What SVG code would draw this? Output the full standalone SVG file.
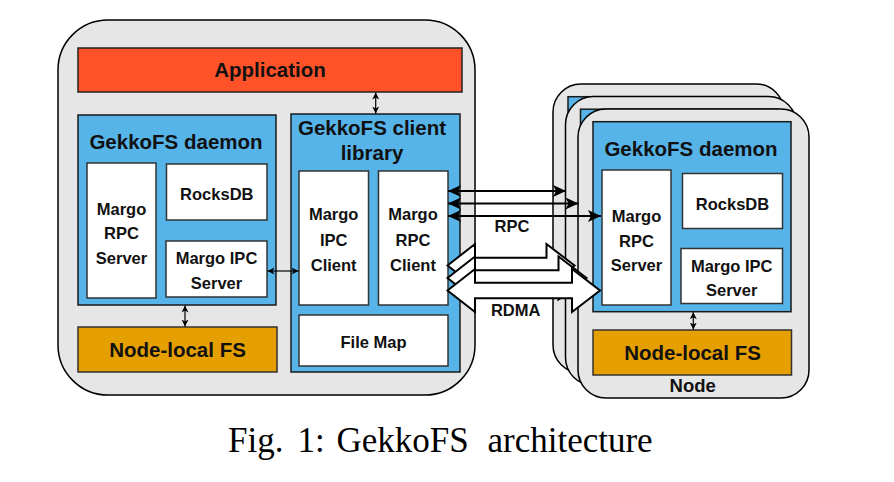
<svg xmlns="http://www.w3.org/2000/svg" width="894" height="482" viewBox="0 0 894 482">
<style>
.frame{fill:#e6e6e6;stroke:#000;stroke-width:1.5}
.blue{fill:#56b4e9;stroke:#1a1a1a;stroke-width:1.5}
.white{fill:#fff;stroke:#333;stroke-width:1.5}
.app{fill:#ff5229;stroke:#222;stroke-width:1.5}
.fs{fill:#e69f00;stroke:#333;stroke-width:1.5}
.t20{font-family:"Liberation Sans",Arial,sans-serif;font-weight:bold;font-size:20.5px;fill:#111;text-anchor:middle}
.t18{font-family:"Liberation Sans",Arial,sans-serif;font-weight:bold;font-size:18.5px;fill:#111;text-anchor:middle}
.t16{font-family:"Liberation Sans",Arial,sans-serif;font-weight:bold;font-size:16.5px;fill:#111;text-anchor:middle}
.rdma{fill:#fff;stroke:#000;stroke-width:2;stroke-linejoin:miter}
.rpc{stroke:#000;stroke-width:2;fill:none;marker-start:url(#big);marker-end:url(#big)}
.sm{stroke:#000;stroke-width:1.2;fill:none;marker-start:url(#small);marker-end:url(#small)}
.cap{font-family:"Liberation Serif","Times New Roman",serif;font-size:35px;fill:#000}
</style>
<defs>
<marker id="big" markerUnits="userSpaceOnUse" markerWidth="14" markerHeight="12" refX="13" refY="6" orient="auto-start-reverse" viewBox="0 0 14 12">
<path d="M0,0 L13,6 L0,12 L3,6 z" fill="#000"/>
</marker>
<marker id="small" markerUnits="userSpaceOnUse" markerWidth="8" markerHeight="8" refX="7" refY="4" orient="auto-start-reverse" viewBox="0 0 8 8">
<path d="M0,0.5 L7,4 L0,7.5 L2,4 z" fill="#000"/>
</marker>
</defs>
<rect width="894" height="482" fill="#fff"/>

<g id="node-left">
<rect class="frame" x="58" y="20" width="417" height="375" rx="50"/>
<g id="application">
<rect class="app" x="78" y="48" width="384" height="44"/>
<text class="t20" x="270" y="77">Application</text>
</g>
<g id="daemon-left">
<rect class="blue" x="78" y="115" width="198" height="190"/>
<text class="t20" x="176" y="149">GekkoFS daemon</text>
<g id="rpc-server-left">
<rect class="white" x="87" y="163" width="69" height="135"/>
<text class="t16" x="121.5" y="215">Margo</text>
<text class="t16" x="121.5" y="239">RPC</text>
<text class="t16" x="121.5" y="264">Server</text>
</g>
<g id="rocksdb-left">
<rect class="white" x="166.5" y="164" width="100.5" height="56"/>
<text class="t16" x="216.8" y="200">RocksDB</text>
</g>
<g id="ipc-server-left">
<rect class="white" x="166" y="241" width="101" height="56"/>
<text class="t16" x="216.5" y="264">Margo IPC</text>
<text class="t16" x="216.5" y="289">Server</text>
</g>
</g>
<g id="fs-left">
<rect class="fs" x="78" y="327" width="199" height="45"/>
<text class="t20" x="177.5" y="356.5">Node-local FS</text>
</g>
<g id="client-lib">
<rect class="blue" x="291" y="114" width="169" height="258"/>
<text class="t20" x="372" y="135">GekkoFS client</text>
<text class="t20" x="372" y="160">library</text>
<g id="ipc-client">
<rect class="white" x="299" y="171" width="69.5" height="134"/>
<text class="t16" x="333.7" y="220">Margo</text>
<text class="t16" x="333.7" y="246">IPC</text>
<text class="t16" x="333.7" y="270.5">Client</text>
</g>
<g id="rpc-client">
<rect class="white" x="378.5" y="171" width="69.5" height="134"/>
<text class="t16" x="413" y="220">Margo</text>
<text class="t16" x="413" y="246">RPC</text>
<text class="t16" x="413" y="270.5">Client</text>
</g>
<g id="filemap">
<rect class="white" x="299" y="315" width="149" height="51"/>
<text class="t16" x="373.5" y="347.5">File Map</text>
</g>
</g>
</g>

<g id="node-back2">
<rect class="frame" x="553" y="84" width="231" height="289" rx="28"/>
<rect class="blue" x="568" y="96.7" width="198" height="190"/>
</g>
<g id="node-back1">
<rect class="frame" x="565.5" y="96.5" width="231" height="289" rx="28"/>
<rect class="blue" x="580.5" y="109.2" width="198" height="190"/>
</g>
<g id="node-right">
<rect class="frame" x="578" y="109" width="231" height="289" rx="28"/>
<g id="daemon-right">
<rect class="blue" x="593" y="121.7" width="198" height="190"/>
<text class="t20" x="691" y="155.5">GekkoFS daemon</text>
<g id="rpc-server-right">
<rect class="white" x="602" y="170" width="69" height="135"/>
<text class="t16" x="636.5" y="221.5">Margo</text>
<text class="t16" x="636.5" y="246.5">RPC</text>
<text class="t16" x="636.5" y="271">Server</text>
</g>
<g id="rocksdb-right">
<rect class="white" x="682.5" y="173.5" width="100" height="55"/>
<text class="t16" x="732.5" y="210">RocksDB</text>
</g>
<g id="ipc-server-right">
<rect class="white" x="681" y="248.5" width="101.5" height="55"/>
<text class="t16" x="731.7" y="271.5">Margo IPC</text>
<text class="t16" x="731.7" y="296">Server</text>
</g>
</g>
<g id="fs-right">
<rect class="fs" x="593" y="330" width="198.5" height="45"/>
<text class="t20" x="692.5" y="360">Node-local FS</text>
</g>
<text class="t18" x="692.7" y="391.5">Node</text>
</g>

<g id="connectors">
<line class="sm" x1="375.7" y1="92.5" x2="375.7" y2="113.5"/>
<line class="sm" x1="185" y1="305.5" x2="185" y2="326.5"/>
<line class="sm" x1="267.5" y1="271" x2="298.5" y2="271"/>
<line class="sm" x1="693.3" y1="312.2" x2="693.3" y2="329.5"/>
<line class="rpc" x1="448" y1="191" x2="566" y2="191"/>
<line class="rpc" x1="448" y1="203.5" x2="578.5" y2="203.5"/>
<line class="rpc" x1="448" y1="216" x2="601" y2="216"/>
<polygon class="rdma" points="447.5,265.5 475,244 475,257.75 546.5,257.75 546.5,244 574.5,265.5 546.5,287 546.5,273.25 475,273.25 475,287"/>
<polygon class="rdma" points="447.5,278 475,256.5 475,270.25 558.5,270.25 558.5,256.5 586.5,278 558.5,299.5 558.5,285.75 475,285.75 475,299.5"/>
<polygon class="rdma" points="447.5,290.5 475,269 475,282.75 572,282.75 572,269 600,290.5 572,312 572,298.25 475,298.25 475,312"/>
<text class="t16" x="512" y="231.6">RPC</text>
<text class="t16" x="515.7" y="315.6">RDMA</text>
</g>

<text class="cap" y="451.5"><tspan x="228">Fig.</tspan> <tspan x="297.5">1:</tspan> <tspan x="336.5">GekkoFS</tspan> <tspan x="487.5">architecture</tspan></text>
</svg>
